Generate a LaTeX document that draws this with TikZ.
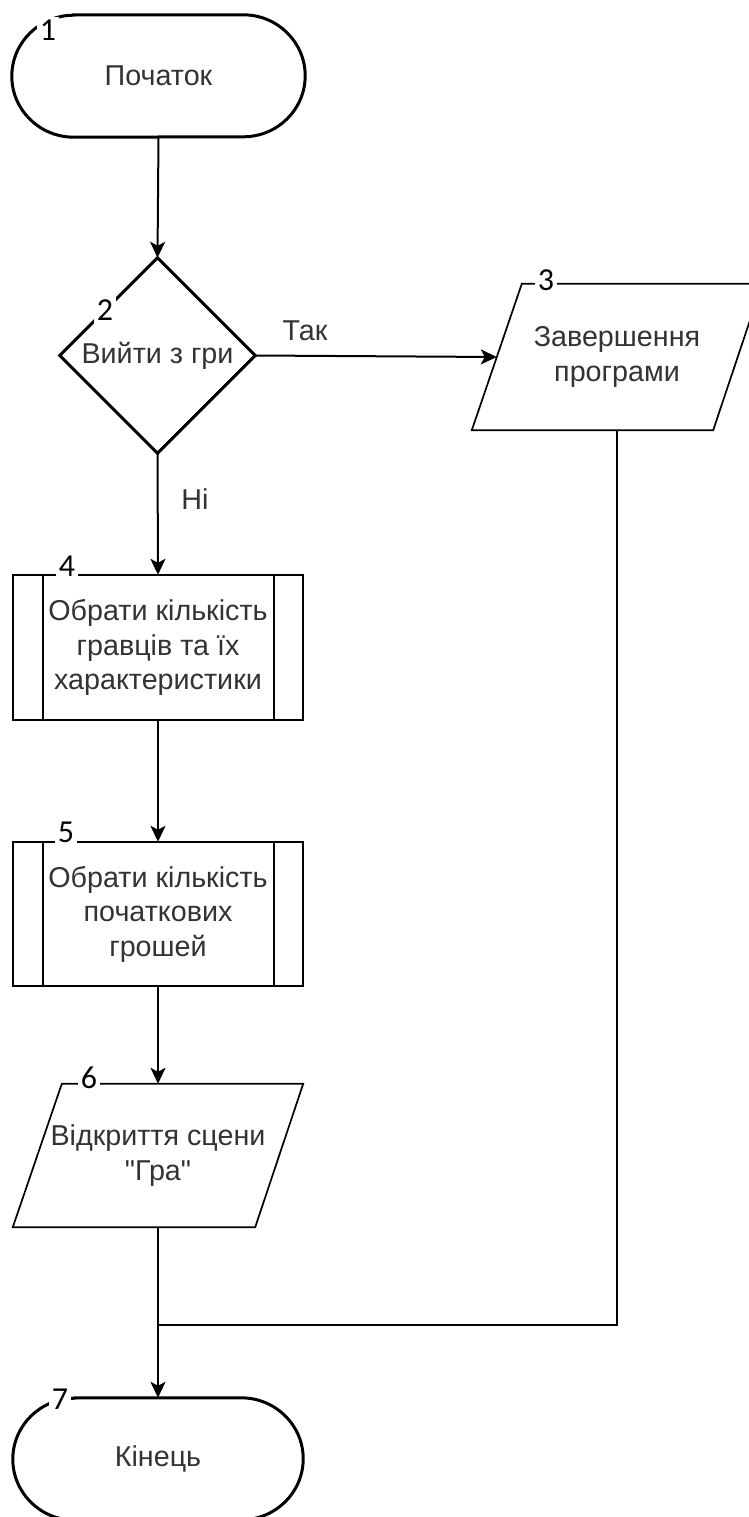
\documentclass[tikz,border=0pt]{standalone}
\usepackage{fontspec}
\setmainfont{Liberation Sans}[Ligatures=TeXOff]
\newfontfamily\numfont{Carlito}
\usetikzlibrary{arrows.meta}
\definecolor{txt}{HTML}{333333}
\begin{document}
\begin{tikzpicture}[x=1pt,y=1pt,
  lbl/.style={font=\fontsize{28.7}{34.5}\selectfont, text=txt, align=center},
  shapebox/.style={lbl, inner sep=0pt, draw=none},
  thickline/.style={line width=3pt, draw=black, line join=miter},
  thinline/.style={line width=1.7pt, draw=black},
  conn/.style={line width=2pt, -{Stealth[length=16pt,width=15pt,inset=4pt]}},
  plainconn/.style={line width=2pt},
  numlbl/.style={font=\numfont\fontsize{32}{32}\selectfont, fill=white, inner sep=3pt},
  edgetxt/.style={font=\fontsize{28.7}{34.5}\selectfont, text=txt, inner sep=0pt}]
\useasboundingbox (0,0) rectangle (749,-1517);
\clip (0,0) rectangle (749,-1517);
\fill[white] (0,0) rectangle (749,-1517);

% nodes (invisible holders with text)
\node[shapebox, minimum width=293pt, minimum height=122pt] (t1) at (158.5,-76) {Початок};
\node[shapebox, minimum width=195pt, minimum height=195pt] (d2) at (157.5,-355.5) {Вийти з гри};
\node[shapebox, minimum width=290pt, minimum height=146pt] (p3) at (617,-357) {Завершення\\програми};
\node[shapebox, minimum width=290pt, minimum height=145pt] (b4) at (158,-647.5) {Обрати кількість\\гравців та їх\\характеристики};
\node[shapebox, minimum width=290pt, minimum height=144pt] (b5) at (158,-914) {Обрати кількість\\початкових\\грошей};
\node[shapebox, minimum width=290pt, minimum height=143pt] (p6) at (158,-1155.5) {Відкриття сцени\\"Гра"};
\node[shapebox, minimum width=290pt, minimum height=122pt] (t7) at (158,-1459) {Кінець};

% shapes
\draw[thickline] ([xshift=62pt]t1.north west) -- ([xshift=-62pt]t1.north east)
  arc[start angle=90,end angle=-90,x radius=62pt,y radius=61pt]
  -- ([xshift=62pt]t1.south west)
  arc[start angle=270,end angle=90,x radius=62pt,y radius=61pt] -- cycle;
\draw[thickline] (d2.north) -- (d2.east) -- (d2.south) -- (d2.west) -- cycle;
\draw[thinline] ([xshift=50pt]p3.north west) -- (p3.north east) -- ([xshift=-49pt]p3.south east) -- (p3.south west) -- cycle;
\draw[thinline] (b4.north west) rectangle (b4.south east);
\draw[thinline] ([xshift=30pt]b4.north west) -- ([xshift=30pt]b4.south west);
\draw[thinline] ([xshift=-29pt]b4.north east) -- ([xshift=-29pt]b4.south east);
\draw[thinline] (b5.north west) rectangle (b5.south east);
\draw[thinline] ([xshift=30pt]b5.north west) -- ([xshift=30pt]b5.south west);
\draw[thinline] ([xshift=-29pt]b5.north east) -- ([xshift=-29pt]b5.south east);
\draw[thinline] ([xshift=49pt]p6.north west) -- (p6.north east) -- ([xshift=-48pt]p6.south east) -- (p6.south west) -- cycle;
\draw[thickline] ([xshift=62pt]t7.north west) -- ([xshift=-62pt]t7.north east)
  arc[start angle=90,end angle=-90,x radius=62pt,y radius=61pt]
  -- ([xshift=62pt]t7.south west)
  arc[start angle=270,end angle=90,x radius=62pt,y radius=61pt] -- cycle;

% connectors
\coordinate (p3in) at ([xshift=25pt]p3.west);
\coordinate (mrg) at (158,-1325);
\draw[conn] (t1.south) -- (d2.north);
\draw[conn] (d2.east) -- (p3in);
\draw[conn] (d2.south) -- (b4.north);
\draw[conn] (b4.south) -- (b5.north);
\draw[conn] (b5.south) -- (p6.north);
\draw[conn] (p6.south) -- (t7.north);
\draw[plainconn] (p3.south) |- (mrg);

% connector labels
\node[edgetxt] (lyes) at (305,-331) {Так};
\node[edgetxt] (lno) at (195,-499) {Ні};

% number labels
\node[numlbl] (n1) at (48,-30) {1};
\node[numlbl] (n2) at (105,-310) {2};
\node[numlbl] (n3) at (546,-280) {3};
\node[numlbl] (n4) at (67,-566) {4};
\node[numlbl] (n5) at (66,-832) {5};
\node[numlbl] (n6) at (89,-1078) {6};
\node[numlbl] (n7) at (60,-1399) {7};
\end{tikzpicture}
\end{document}
